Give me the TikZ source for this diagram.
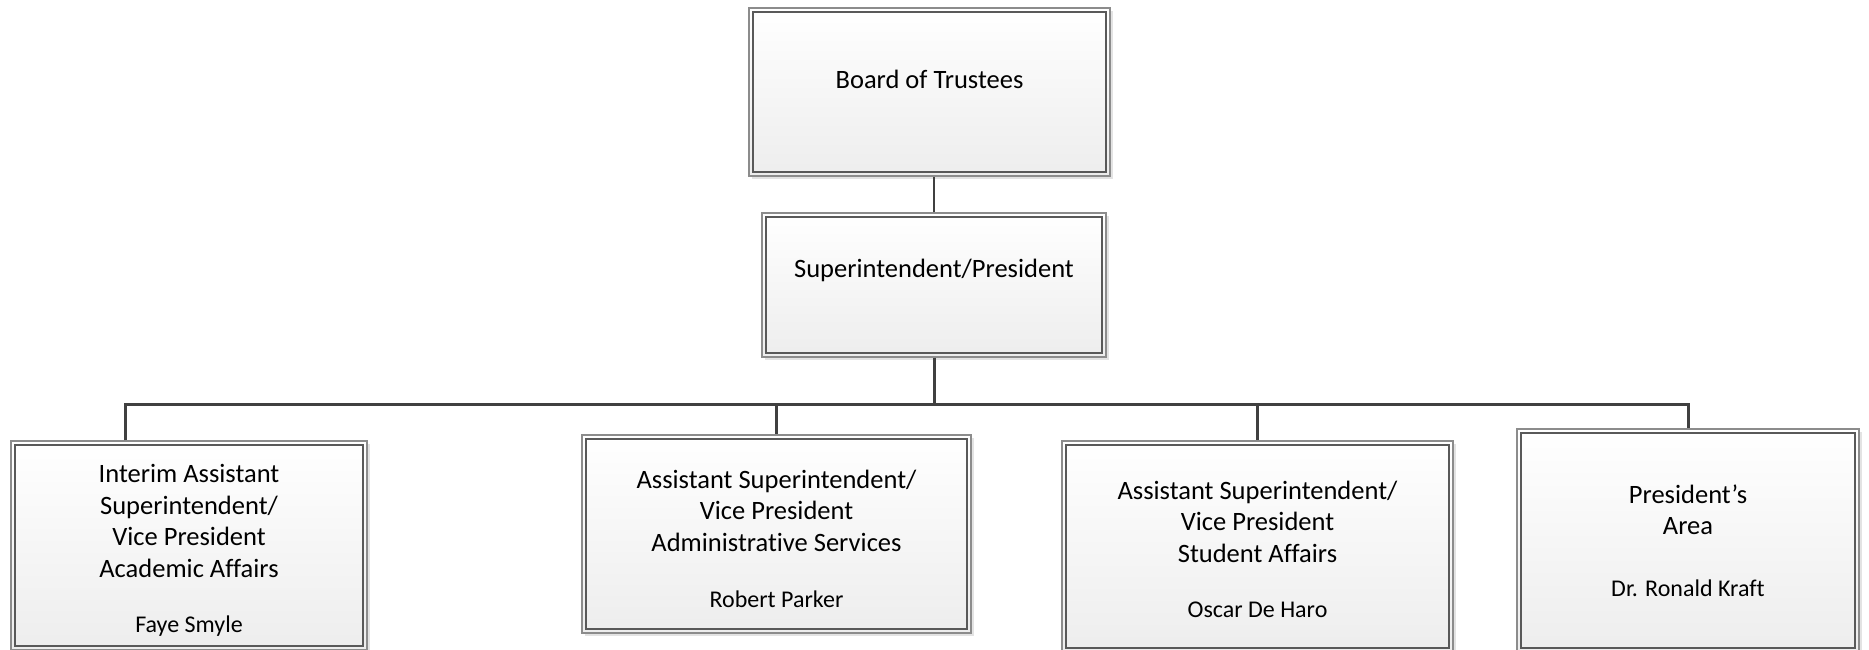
\documentclass[tikz,border=0pt]{standalone}
\usepackage{fontspec}
\setmainfont{Carlito}[Ligatures={NoCommon}]
\usetikzlibrary{shadows}
\definecolor{outergrey}{HTML}{8C8C8C}
\definecolor{innergrey}{HTML}{595959}
\definecolor{linkgrey}{HTML}{404040}
\begin{document}
\begin{tikzpicture}[x=1pt,y=1pt,
    orgbox/.style={rectangle, draw=outergrey, line width=1.2pt, inner sep=0pt,
      top color=white, bottom color=black!7,
      drop shadow={shadow xshift=3pt, shadow yshift=-3pt, fill=black!18, opacity=0.6},
      align=center, font=\fontsize{26.5}{31.5}\selectfont},
    innerline/.style={draw=innergrey, line width=1.3pt},
    link/.style={draw=linkgrey, line width=2.6pt},
    busline/.style={draw=linkgrey, line width=3pt}]
    \useasboundingbox (0,0) rectangle (1869,-650);
    \def\pname#1{\fontsize{24}{31.5}\selectfont #1}
    \def\lowtop{\rule{0pt}{28pt}}
    \draw (929.5,-92) node[orgbox, minimum width=361pt, minimum height=168pt,
      text height=18pt, text depth=25pt] (board) {Board of Trustees};
    \draw (934,-285) node[orgbox, minimum width=344pt, minimum height=144pt,
      text height=18pt, text depth=33pt] (pres) {Superintendent/President};
    \draw (189,-545.5) node[orgbox, minimum width=356pt, minimum height=209pt] (acad)
      {\lowtop Interim Assistant\\Superintendent/\\Vice President\\Academic Affairs\\[23.5pt]\pname{Faye Smyle}};
    \draw (776.5,-534) node[orgbox, minimum width=389pt, minimum height=198pt] (admin)
      {\lowtop Assistant Superintendent/\\Vice President\\Administrative Services\\[24.5pt]\pname{Robert Parker}};
    \draw (1257.5,-546.5) node[orgbox, minimum width=391pt, minimum height=211pt] (stud)
      {\rule{0pt}{24pt}Assistant Superintendent/\\Vice President\\Student Affairs\\[23.5pt]\pname{Oscar De Haro}};
    \draw (1688,-540.5) node[orgbox, minimum width=342pt, minimum height=223pt] (parea)
      {President’s\\Area\\[30pt]\pname{Dr. Ronald Kraft}};
    \foreach \n in {board,pres,acad,admin,stud,parea}
      \draw[innerline] ([shift={(4.5pt,-4.5pt)}]\n.north west) rectangle ([shift={(-4.5pt,4.5pt)}]\n.south east);
    \coordinate (bus) at (934,-404);
    \coordinate (acadtap) at (125,-404);
    \draw[link] (pres.north) -- (pres.north |- board.south);
    \draw[busline] (pres.south) -- (bus);
    \draw[busline] (acadtap |- acad.north) -- (acadtap) -- (acadtap -| parea.north) -- (parea.north);
    \draw[link] (admin.north |- bus) -- (admin.north);
    \draw[link] (stud.north |- bus) -- (stud.north);
\end{tikzpicture}
\end{document}
